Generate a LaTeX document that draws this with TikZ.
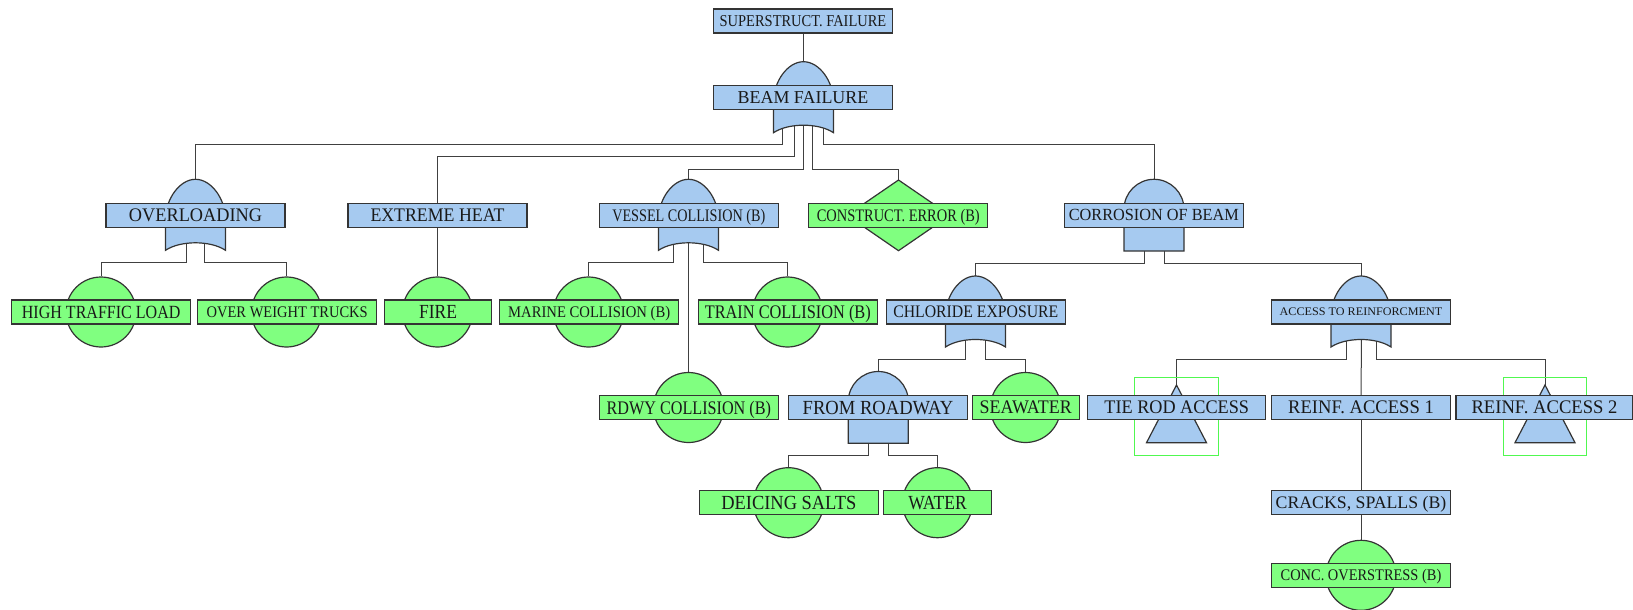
\documentclass[tikz,border=0pt]{standalone}
\usepackage{fontspec}
\setmainfont{Liberation Serif}
\usepackage{graphicx}
\usetikzlibrary{calc}

\definecolor{evblue}{RGB}{166,202,240}
\definecolor{evgreen}{RGB}{128,255,128}
\definecolor{inkline}{RGB}{52,52,52}
\definecolor{wireink}{RGB}{64,64,64}
\definecolor{xferframe}{RGB}{80,248,80}

\pgfdeclarelayer{wires}
\pgfsetlayers{wires,main}

% label: font size, target width, text (squeezed horizontally, centred vertically)
\newcommand\lbl[3]{\fontsize{#1}{#1}\selectfont\smash{\raisebox{-.5\height}{\resizebox{#2}{\height}{#3}}}}

\tikzset{
  evbox/.style={rectangle, draw=inkline, line width=0.6pt, minimum width=89.5pt,
    minimum height=12pt, inner sep=0pt, text=black!90},
  blueev/.style={evbox, fill=evblue},
  greenev/.style={evbox, fill=evgreen},
  basicev/.style={circle, fill=evgreen, draw=inkline, line width=0.6pt,
    minimum size=35pt, inner sep=0pt},
  gateshape/.style={fill=evblue, draw=inkline, line width=0.6pt},
  diamshape/.style={fill=evgreen, draw=inkline, line width=0.6pt},
  xfer/.style={draw=xferframe, line width=0.5pt},
  wire/.style={draw=wireink, line width=0.5pt},
}

% OR gate centred on (#1,#2), named #3
\newcommand\orgate[3]{\begin{scope}[shift={(#1,#2)}]
  \path[gateshape] (-30,35) -- (-30,4) .. controls (-30,-16) and (-16,-36) .. (0,-36)
     .. controls (16,-36) and (30,-16) .. (30,4) -- (30,35)
     .. controls (15,25) and (-15,25) .. cycle;
  \coordinate (#3-i) at (0,-36);
  \coordinate (#3-o) at (0,25);
\end{scope}}

% AND gate centred on (#1,#2), named #3
\newcommand\andgate[3]{\begin{scope}[shift={(#1,#2)}]
  \path[gateshape] (-30,35.7) -- (-30,-6) .. controls (-30,-22.5) and (-16.5,-36) .. (0,-36)
     .. controls (16.5,-36) and (30,-22.5) .. (30,-6) -- (30,35.7) -- cycle;
  \coordinate (#3-i) at (0,-36);
  \coordinate (#3-o) at (0,25);
\end{scope}}

% transfer triangle in its frame, centred on (#1,#2), named #3
\newcommand\xfertri[3]{\begin{scope}[shift={(#1,#2)}]
  \draw[xfer] (-41.7,-30.2) rectangle (41.7,47.5);
  \path[gateshape] (0,-22.5) -- (30,35.2) -- (-30,35.2) -- cycle;
  \coordinate (#3-i) at (0,-22.5);
\end{scope}}

\begin{document}
\begin{tikzpicture}[x=0.5pt, y=-0.5pt]
\useasboundingbox (0,0) rectangle (1633,610);

% ---------- gates and symbols ----------
\orgate{803.5}{97.7}{beamg}
\orgate{195.5}{215.3}{ovlg}
\orgate{688.5}{215.3}{vesg}
\andgate{1154}{215.3}{corg}
\orgate{975.5}{312}{chlg}
\orgate{1361}{312}{accg}
\andgate{878.3}{407.5}{roadg}

\path[diamshape] (898.5,180) -- (950,215.3) -- (898.5,250.7) -- (847,215.3) -- cycle;
\coordinate (consg-i) at (898.5,180);

\xfertri{1176.5}{407.5}{tieg}
\xfertri{1545}{407.5}{ra2g}

% ---------- basic events (circles) ----------
\node[basicev] (htl-c)  at (101,312) {};
\node[basicev] (owt-c)  at (286.5,312) {};
\node[basicev] (fire-c) at (437.5,312) {};
\node[basicev] (mar-c)  at (588.5,312) {};
\node[basicev] (train-c) at (787.5,312) {};
\node[basicev] (rdwy-c) at (688.5,407.5) {};
\node[basicev] (sea-c)  at (1025.5,407.5) {};
\node[basicev] (dei-c)  at (788.5,502.7) {};
\node[basicev] (wat-c)  at (937.5,502.7) {};
\node[basicev] (conc-c) at (1361,575.3) {};

% ---------- event boxes ----------
\node[blueev] (sup)  at (803,21)      {\lbl{8.3pt}{83.3pt}{SUPERSTRUCT. FAILURE}};
\node[blueev] (beam) at (803,97.7)    {\lbl{9.1pt}{65.3pt}{BEAM FAILURE}};

\node[blueev]  (ovl)  at (195.5,215.3) {\lbl{9.6pt}{66.5pt}{OVERLOADING}};
\node[blueev]  (heat) at (437.5,215.3) {\lbl{9.6pt}{67pt}{EXTREME HEAT}};
\node[blueev]  (ves)  at (688.8,215.3) {\lbl{8.8pt}{76.5pt}{VESSEL COLLISION (B)}};
\node[greenev] (cons) at (898.3,215.3) {\lbl{8.8pt}{81.5pt}{CONSTRUCT. ERROR (B)}};
\node[blueev]  (cor)  at (1153.8,215.3) {\lbl{8.5pt}{85pt}{CORROSION OF BEAM}};

\node[greenev] (htl)  at (101.2,312) {\lbl{9.3pt}{79.3pt}{HIGH TRAFFIC LOAD}};
\node[greenev] (owt)  at (287.2,312) {\lbl{8.1pt}{80.5pt}{OVER WEIGHT TRUCKS}};
\node[greenev, minimum width=53.7pt] (fire) at (438,312) {\lbl{10pt}{19pt}{FIRE}};
\node[greenev] (mar)  at (589.2,312) {\lbl{8.1pt}{81pt}{MARINE COLLISION (B)}};
\node[greenev] (train) at (787.8,312) {\lbl{9.6pt}{83pt}{TRAIN COLLISION (B)}};
\node[blueev]  (chl)  at (975.8,312) {\lbl{8.8pt}{82.5pt}{CHLORIDE EXPOSURE}};
\node[blueev]  (acc)  at (1361,312) {\lbl{5.8pt}{81.3pt}{ACCESS TO REINFORCMENT}};

\node[greenev] (rdwy) at (688.8,407.5) {\lbl{9.6pt}{82.2pt}{RDWY COLLISION (B)}};
\node[blueev]  (road) at (878,407.5) {\lbl{10pt}{75.3pt}{FROM ROADWAY}};
\node[greenev, minimum width=53.4pt] (sea) at (1025.7,407.5) {\lbl{9.6pt}{46pt}{SEAWATER}};
\node[blueev, minimum width=89pt] (tie) at (1176.7,407.5) {\lbl{9.6pt}{72.3pt}{TIE ROD ACCESS}};
\node[blueev]  (ra1)  at (1361,407.5) {\lbl{9.6pt}{72.8pt}{REINF. ACCESS 1}};
\node[blueev, minimum width=88.5pt] (ra2) at (1544.5,407.5) {\lbl{9.6pt}{73pt}{REINF. ACCESS 2}};

\node[greenev] (dei)  at (788.8,502.7) {\lbl{10pt}{67.5pt}{DEICING SALTS}};
\node[greenev, minimum width=53.8pt] (wat) at (937.5,502.7) {\lbl{10pt}{29.2pt}{WATER}};
\node[blueev]  (crk)  at (1361,502.7) {\lbl{8.8pt}{85.3pt}{CRACKS, SPALLS (B)}};

\node[greenev] (conc) at (1361,575.3) {\lbl{8.1pt}{80.3pt}{CONC. OVERSTRESS (B)}};

% ---------- connectors ----------
\begin{pgfonlayer}{wires}
\draw[wire] (beamg-i |- sup.south) -- (beamg-i);

\draw[wire] ($(beamg-o)+(-21,0)$) -- ++(0,22.3) -| (ovlg-i);
\draw[wire] ($(beamg-o)+(-9,0)$)  -- ++(0,34)   -| (heat.north);
\draw[wire] (beamg-o)             -- ++(0,46.5) -| (vesg-i);
\draw[wire] ($(beamg-o)+(9,0)$)   -- ++(0,46.5) -| (consg-i);
\draw[wire] ($(beamg-o)+(20,0)$)  -- ++(0,21.6) -| (corg-i);

\draw[wire] ($(ovlg-o)+(-9.5,0)$) -- ++(0,22) -| (htl-c.north);
\draw[wire] ($(ovlg-o)+(9,0)$)    -- ++(0,22) -| (owt-c.north);

\draw[wire] (fire-c.north |- heat.south) -- (fire-c.north);

\draw[wire] ($(vesg-o)+(-15,0)$) -- ++(0,22.4) -| (mar-c.north);
\draw[wire] (vesg-o)             -- (rdwy-c.north);
\draw[wire] ($(vesg-o)+(15,0)$)  -- ++(0,22.4) -| (train-c.north);

\draw[wire] ($(corg-o)+(-9.5,0)$) -- ++(0,23) -| (chlg-i);
\draw[wire] ($(corg-o)+(10.5,0)$) -- ++(0,23) -| (accg-i);

\draw[wire] ($(chlg-o)+(-10,0)$) -- ++(0,22.3) -| (roadg-i);
\draw[wire] ($(chlg-o)+(10,0)$)  -- ++(0,22.3) -| (sea-c.north);

\draw[wire] ($(accg-o)+(-14.5,0)$) -- ++(0,22.3) -| (tieg-i);
\draw[wire] ($(accg-o)+(0.5,0)$)   -- (ra1.north);
\draw[wire] ($(accg-o)+(15.5,0)$)  -- ++(0,22.3) -| (ra2g-i);

\draw[wire] ($(roadg-o)+(-9.8,0)$) -- ++(0,22.5) -| (dei-c.north);
\draw[wire] ($(roadg-o)+(10.2,0)$) -- ++(0,22.5) -| (wat-c.north);

\draw[wire] ($(ra1.south)+(0.5,0)$) -- ($(crk.north)+(0.5,0)$);
\draw[wire] ($(crk.south)+(0.5,0)$) -- ($(conc-c.north)+(0.5,0)$);
\end{pgfonlayer}
\end{tikzpicture}
\end{document}
